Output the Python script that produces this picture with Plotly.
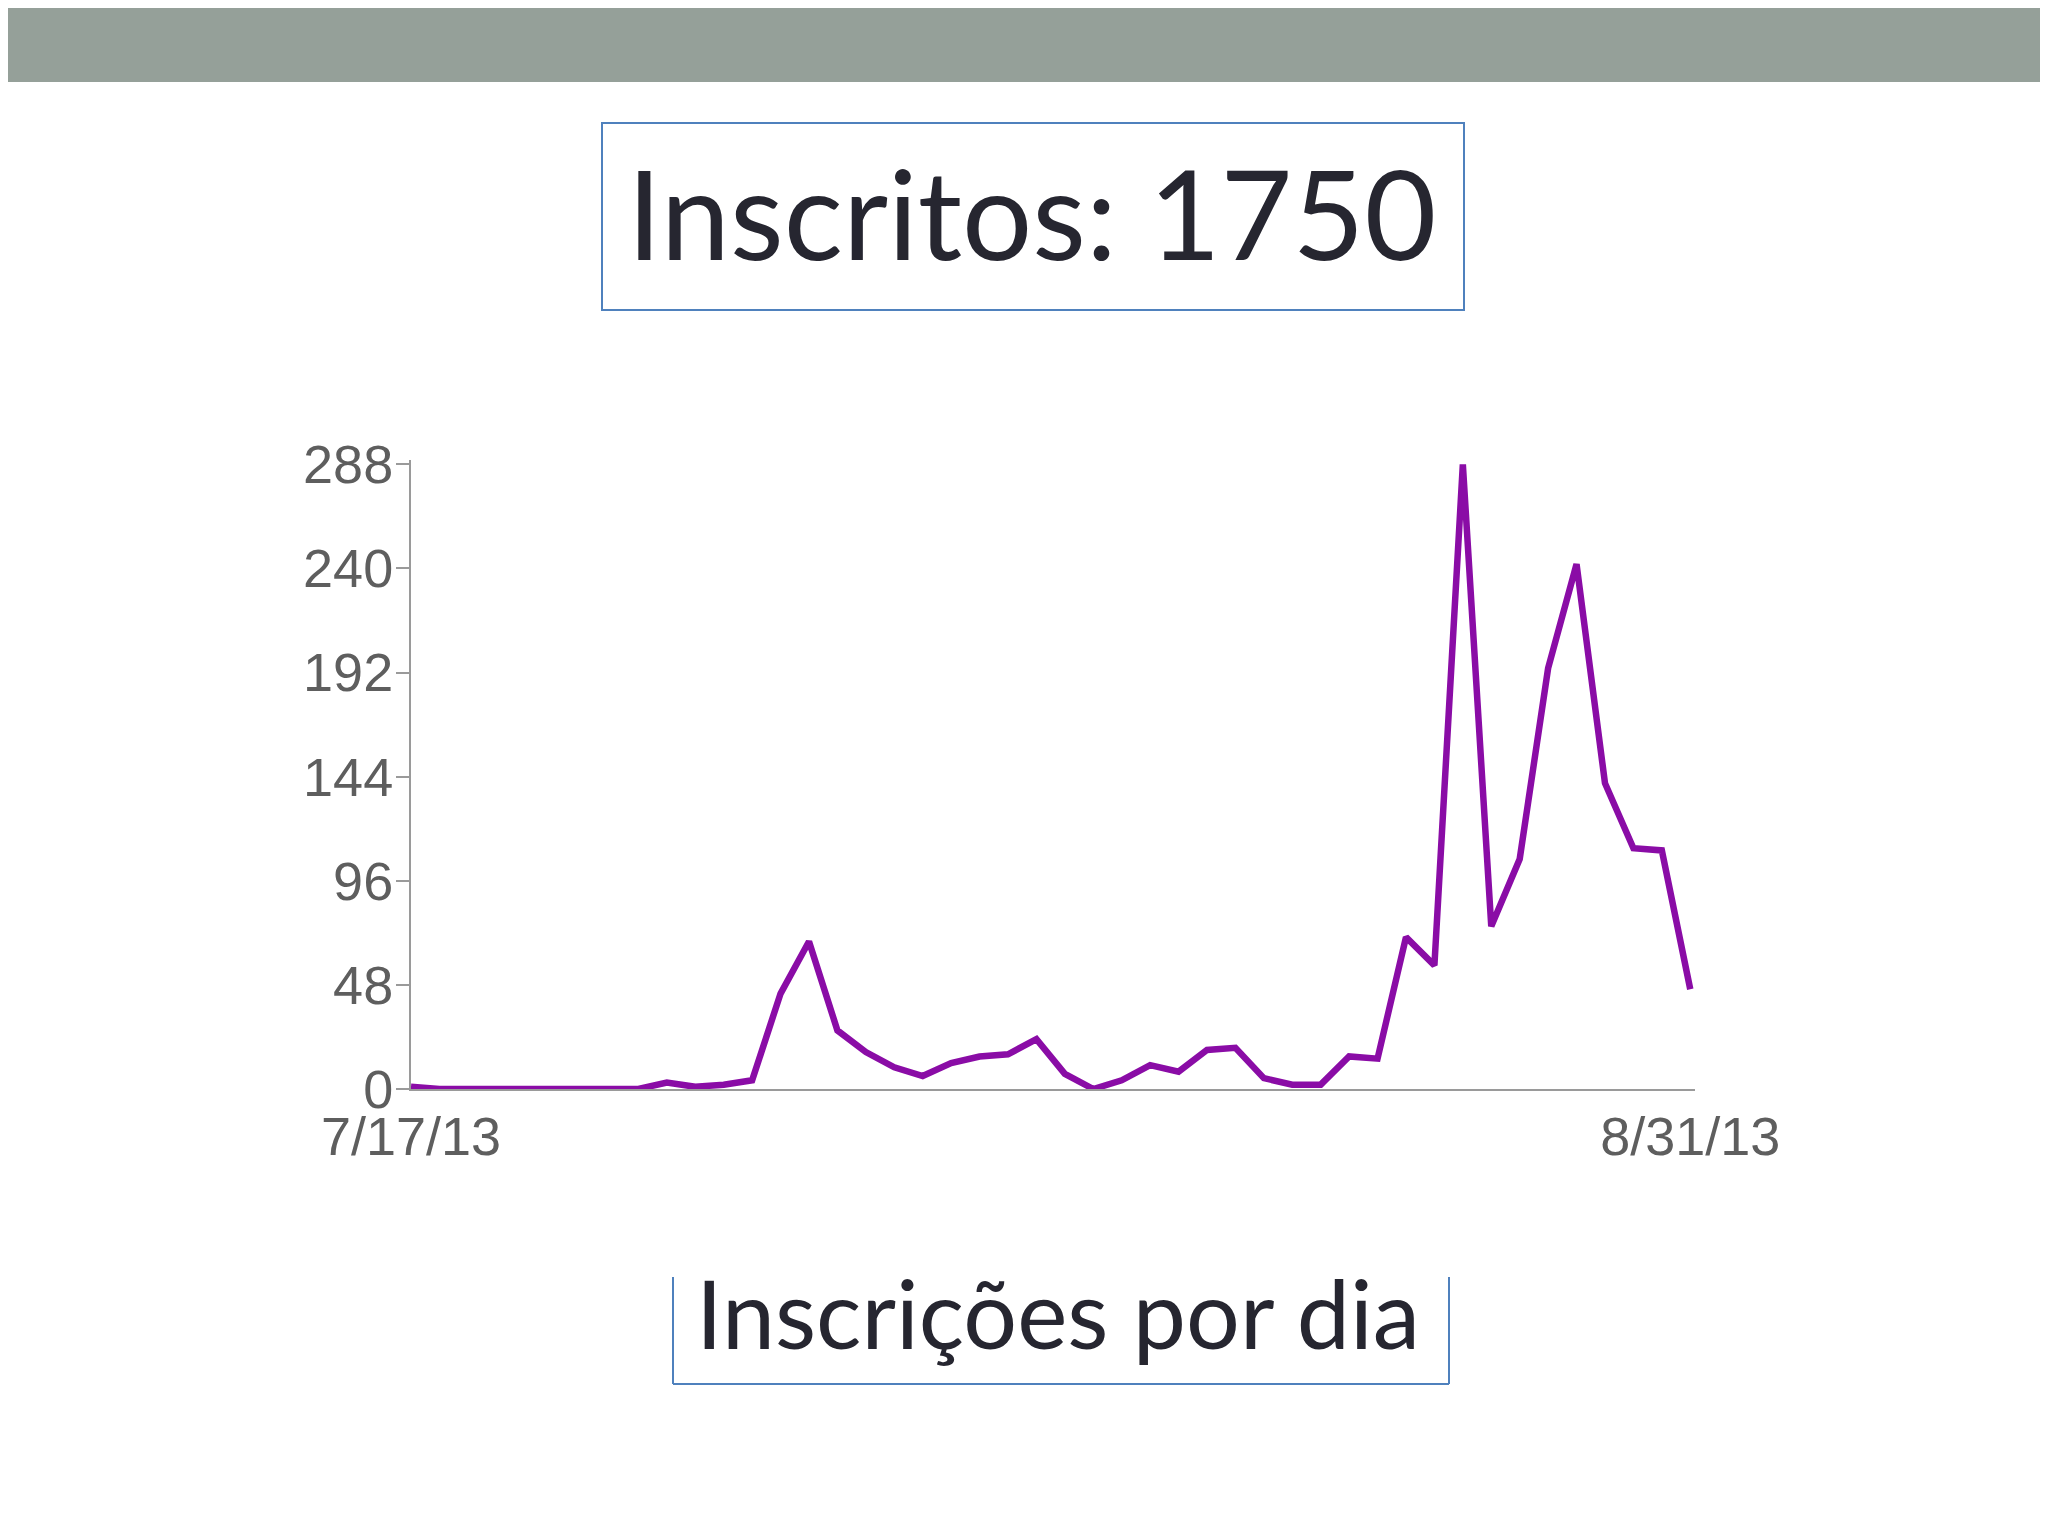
import pandas as pd
import plotly.graph_objects as go

# ---- data ----
start_date = "2013-07-17"
end_date = "2013-08-31"
daily_signups = [1, 0, 0, 0, 0, 0, 0, 0, 0, 3, 1, 2, 4, 44, 68, 27, 17, 10, 6, 12,
                 15, 16, 23, 7, 0, 4, 11, 8, 18, 19, 5, 2, 2, 15, 14, 70, 57, 288,
                 75, 106, 194, 242, 141, 111, 110, 46]
y_ticks = [0, 48, 96, 144, 192, 240, 288]
x_tick_labels = ["7/17/13", "8/31/13"]
title_text = "Inscritos: 1750"
caption_text = "Inscrições por dia"

dates = pd.date_range(start_date, end_date, freq="D")

# page body has an 8px margin; size the figure so the page fits the window
OX, OY = 8, 8
FW, FH = 2032, 1520

def px(x):
    return (x - OX) / FW

def py(y):
    return 1 - (y - OY) / FH

fig = go.Figure()
fig.add_trace(go.Scatter(
    x=dates, y=daily_signups, mode="lines",
    line=dict(color="#8a0ca6", width=6.5),
    hoverinfo="skip", showlegend=False,
))

box_blue = "#4f81bd"
shapes = [
    # header bar
    dict(type="rect", xref="paper", yref="paper", x0=0, x1=1, y0=py(82), y1=1,
         fillcolor="#95a099", line=dict(width=0), layer="below"),
    # title box
    dict(type="rect", xref="paper", yref="paper", x0=px(602), x1=px(1464),
         y0=py(310), y1=py(123), line=dict(color=box_blue, width=2)),
    # caption box (open top)
    dict(type="line", xref="paper", yref="paper", x0=px(673), x1=px(673),
         y0=py(1384), y1=py(1277), line=dict(color=box_blue, width=2)),
    dict(type="line", xref="paper", yref="paper", x0=px(1449), x1=px(1449),
         y0=py(1384), y1=py(1277), line=dict(color=box_blue, width=2)),
    dict(type="line", xref="paper", yref="paper", x0=px(673), x1=px(1449),
         y0=py(1384), y1=py(1384), line=dict(color=box_blue, width=2)),
]

annotations = [
    dict(text=title_text, xref="paper", yref="paper", x=px(1031), y=py(212),
         xanchor="center", yanchor="middle", showarrow=False,
         font=dict(family="Lato", size=124, color="#262630")),
    dict(text=caption_text, xref="paper", yref="paper", x=px(1058), y=py(1312),
         xanchor="center", yanchor="middle", showarrow=False,
         font=dict(family="Lato", size=95, color="#262630")),
]

tick_font = dict(family="Liberation Sans", size=54, color="#5e5e5e")

x_end = dates[-1] + pd.Timedelta(hours=4)

fig.update_layout(
    width=FW, height=FH,
    margin=dict(l=0, r=0, t=0, b=0, pad=0, autoexpand=False),
    paper_bgcolor="white", plot_bgcolor="white",
    shapes=shapes, annotations=annotations,
    xaxis=dict(
        domain=[px(411), px(1695)],
        range=[dates[0], x_end],
        automargin=False,
        showgrid=False, zeroline=False,
        showline=True, linecolor="#9a9a9a", linewidth=2,
        tickvals=[dates[0], dates[-1]], ticktext=x_tick_labels,
        ticks="", ticklabelstandoff=-1,
        tickfont=tick_font,
    ),
    yaxis=dict(
        domain=[py(1089), py(460)],
        range=[0, 290],
        automargin=False,
        showgrid=False, zeroline=False,
        showline=True, linecolor="#9a9a9a", linewidth=2,
        tickvals=y_ticks,
        ticks="outside", ticklen=13, tickwidth=2, tickcolor="#9a9a9a",
        ticklabelstandoff=-8,
        tickfont=tick_font,
    ),
)

fig.write_html("out.html")
